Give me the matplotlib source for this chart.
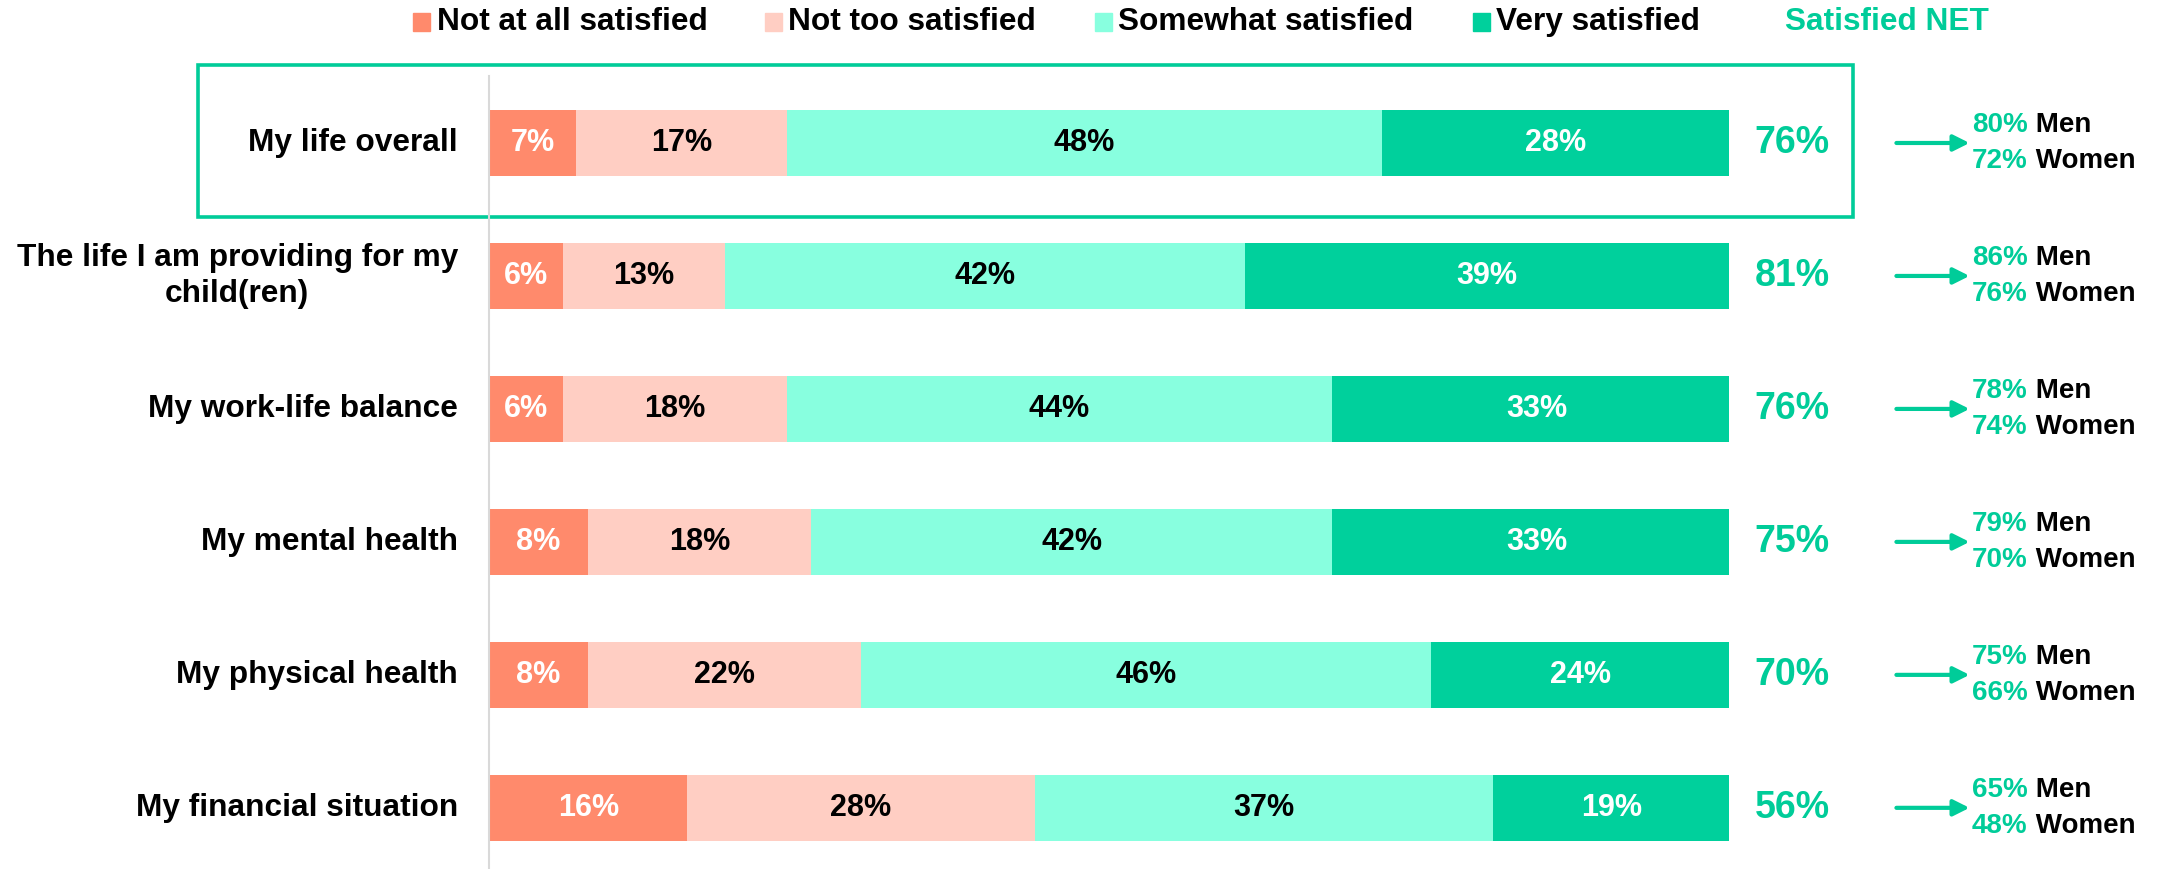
import matplotlib.pyplot as plt
from matplotlib.patches import Rectangle

categories = ["My life overall", "The life I am providing for my\nchild(ren)",
              "My work-life balance", "My mental health",
              "My physical health", "My financial situation"]
series_names = ["Not at all satisfied", "Not too satisfied",
                "Somewhat satisfied", "Very satisfied"]
not_at_all = [7, 6, 6, 8, 8, 16]
not_too = [17, 13, 18, 18, 22, 28]
somewhat = [48, 42, 44, 42, 46, 37]
very = [28, 39, 33, 33, 24, 19]
net = [76, 81, 76, 75, 70, 56]
men = [80, 86, 78, 79, 75, 65]
women = [72, 76, 74, 70, 66, 48]

colors = ["#FF8A6C", "#FFCEC3", "#88FFDF", "#00D09C"]
text_colors = ["white", "black", "black", "white"]
green = "#00CC99"

plt.rcParams["font.family"] = ["Liberation Sans", "DejaVu Sans"]
plt.rcParams["font.weight"] = "bold"

W, H = 2170, 869
fig = plt.figure(figsize=(W / 100, H / 100), dpi=100)
# bar area: 0..100 spans x 489..1729 px; rows 133 px apart, first at y=143
ax = fig.add_axes([489 / W, 0, 1240 / W, (869 - 76.5) / H])
ax.set_xlim(0, 100)
ax.set_ylim(5.46, -0.5)

series = [not_at_all, not_too, somewhat, very]
ypos = list(range(len(categories)))
left = [0] * len(categories)
for vals, c, tc in zip(series, colors, text_colors):
    ax.barh(ypos, vals, left=left, height=0.5, color=c, edgecolor="none")
    for y, l, v in zip(ypos, left, vals):
        ax.text(l + v / 2, y, f"{v}%", ha="center", va="center",
                fontsize=22, fontweight="bold", color=tc)
    left = [l + v for l, v in zip(left, vals)]

for y, cat, n, m, w in zip(ypos, categories, net, men, women):
    ax.text(-2.5, y, cat, ha="right", va="center", fontsize=22.8,
            fontweight="bold", color="black", clip_on=False,
            multialignment="center", linespacing=1.3)
    ax.text(105.1, y, f"{n}%", ha="center", va="center", fontsize=27,
            fontweight="bold", color=green, clip_on=False)
    ax.annotate("", xy=(119.4, y), xytext=(113.5, y), xycoords="data",
                arrowprops=dict(arrowstyle="-|>", color=green, lw=3,
                                mutation_scale=24, shrinkA=0, shrinkB=0),
                annotation_clip=False)
    for dy, pct, who in [(-0.135, m, "Men"), (0.135, w, "Women")]:
        t = ax.text(119.6, y + dy, f"{pct}%", ha="left", va="center",
                    fontsize=20, fontweight="bold", color=green, clip_on=False)
        ax.annotate(" " + who, xy=(1, 0.5), xycoords=t, ha="left", va="center",
                    fontsize=20, fontweight="bold", color="black",
                    annotation_clip=False)

# highlight box around first row
ax.add_patch(Rectangle((-23.5, -0.586), 133.5, 1.142, fill=False,
                       edgecolor=green, lw=2.6, clip_on=False))

# legend
sq_x = [-6.13, 22.26, 48.87, 79.35]
tx_x = [-4.19, 24.1, 50.7, 81.2]
ly = -0.91
for sx, tx, name, c in zip(sq_x, tx_x, series_names, colors):
    ax.add_patch(Rectangle((sx, ly - 0.065), 1.35, 0.13, color=c, clip_on=False))
    ax.text(tx, ly, name, ha="left", va="center", fontsize=22.8,
            fontweight="bold", color="black", clip_on=False)
ax.text(112.7, ly, "Satisfied NET", ha="center", va="center", fontsize=22.8,
        fontweight="bold", color=green, clip_on=False)

for s in ["top", "right", "bottom"]:
    ax.spines[s].set_visible(False)
ax.spines["left"].set_color("#D9D9D9")
ax.spines["left"].set_linewidth(1.5)
ax.set_xticks([])
ax.set_yticks([])
ax.patch.set_alpha(0)

fig.savefig("out.png", dpi=100)
